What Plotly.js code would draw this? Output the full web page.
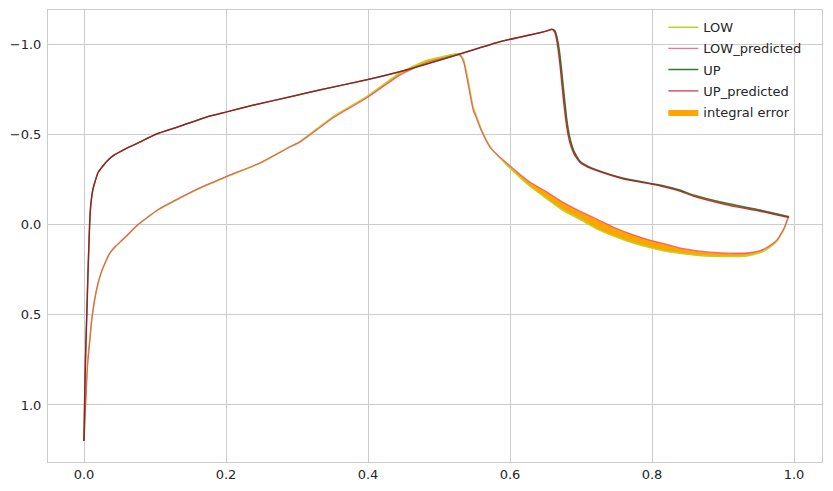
<!DOCTYPE html>
<html>
<head>
<meta charset="utf-8">
<script src="https://cdn.plot.ly/plotly-3.0.1.min.js"></script>
<style>html,body{margin:0;padding:0;background:#fff;}#chart{width:833px;height:491px;}</style>
</head>
<body>
<div id="chart"></div>
<script>
// ---- data ----
const LOW_X = [0.0, 0.002, 0.003, 0.005, 0.008, 0.011, 0.015, 0.019, 0.024, 0.030, 0.036, 0.045, 0.053, 0.060, 0.076, 0.088, 0.105, 0.126, 0.163, 0.201, 0.248, 0.290, 0.304, 0.332, 0.351, 0.398, 0.445, 0.483, 0.505, 0.520, 0.527, 0.531, 0.535, 0.541, 0.548, 0.553, 0.560, 0.572, 0.595, 0.628, 0.652, 0.675, 0.699, 0.722, 0.746, 0.769, 0.793, 0.816, 0.839, 0.862, 0.886, 0.910, 0.933, 0.952, 0.962, 0.976, 0.987, 0.992, 0.993];
const LOW_Y = [1.20, 1.00, 0.917, 0.76, 0.639, 0.52, 0.417, 0.34, 0.269, 0.21, 0.16, 0.118, 0.088, 0.062, 0.0, -0.037, -0.085, -0.13, -0.204, -0.268, -0.343, -0.435, -0.463, -0.546, -0.602, -0.713, -0.845, -0.915, -0.935, -0.948, -0.950, -0.94, -0.915, -0.806, -0.657, -0.602, -0.528, -0.435, -0.335, -0.215, -0.145, -0.08, -0.03, 0.022, 0.062, 0.095, 0.122, 0.144, 0.158, 0.168, 0.174, 0.176, 0.172, 0.155, 0.135, 0.090, 0.015, -0.040, -0.045];
const LOW_PRED_Y = [1.20, 1.02, 0.94, 0.78, 0.655, 0.525, 0.415, 0.335, 0.265, 0.207, 0.158, 0.116, 0.086, 0.060, -0.002, -0.039, -0.087, -0.132, -0.206, -0.27, -0.345, -0.433, -0.46, -0.54, -0.595, -0.705, -0.832, -0.902, -0.925, -0.942, -0.946, -0.935, -0.90, -0.78, -0.64, -0.59, -0.52, -0.43, -0.345, -0.238, -0.183, -0.125, -0.075, -0.033, 0.013, 0.048, 0.080, 0.103, 0.128, 0.143, 0.153, 0.157, 0.156, 0.143, 0.124, 0.083, 0.009, -0.046, -0.048];

const UP_X = [0.0, 0.001, 0.002, 0.003, 0.0045, 0.0056, 0.007, 0.008, 0.0095, 0.0127, 0.0155, 0.0197, 0.0272, 0.0338, 0.0413, 0.057, 0.076, 0.102, 0.135, 0.173, 0.201, 0.238, 0.295, 0.332, 0.398, 0.454, 0.525, 0.586, 0.642, 0.652, 0.659, 0.663, 0.666, 0.670, 0.675, 0.680, 0.684, 0.690, 0.699, 0.710, 0.722, 0.760, 0.792, 0.811, 0.839, 0.858, 0.905, 0.952, 0.990, 0.993];
const UP_Y = [1.20, 0.95, 0.76, 0.62, 0.42, 0.27, 0.10, -0.01, -0.11, -0.20, -0.24, -0.29, -0.33, -0.36, -0.385, -0.42, -0.455, -0.505, -0.548, -0.600, -0.628, -0.665, -0.716, -0.750, -0.806, -0.861, -0.944, -1.018, -1.068, -1.078, -1.087, -1.080, -1.046, -0.954, -0.770, -0.585, -0.49, -0.41, -0.352, -0.325, -0.306, -0.259, -0.235, -0.222, -0.194, -0.167, -0.120, -0.083, -0.048, -0.045];
const UP_PRED_Y = [1.20, 0.95, 0.76, 0.62, 0.42, 0.27, 0.10, -0.01, -0.11, -0.20, -0.24, -0.29, -0.33, -0.36, -0.385, -0.42, -0.455, -0.505, -0.548, -0.600, -0.628, -0.665, -0.716, -0.750, -0.806, -0.861, -0.944, -1.018, -1.068, -1.078, -1.086, -1.07, -1.02, -0.90, -0.70, -0.54, -0.46, -0.395, -0.345, -0.32, -0.302, -0.255, -0.232, -0.217, -0.188, -0.160, -0.112, -0.076, -0.043, -0.043];

const X_TICKS = [0.0, 0.2, 0.4, 0.6, 0.8, 1.0];
const Y_TICKS = [-1.0, -0.5, 0.0, 0.5, 1.0];

// ---- traces ----
function band(x, a, b) {
  return { x: x.concat(x.slice().reverse()), y: a.concat(b.slice().reverse()) };
}
const lowBand = band(LOW_X, LOW_Y, LOW_PRED_Y);
const upBand = band(UP_X, UP_Y, UP_PRED_Y);
const SMOOTH = { shape: 'spline', smoothing: 0.5 };

const traces = [
  { x: lowBand.x, y: lowBand.y, type: 'scatter', mode: 'lines', fill: 'toself',
    fillcolor: '#ffa500', line: Object.assign({ width: 0, color: '#ffa500' }, SMOOTH), name: 'integral error', legendrank: 5, legendgroup: 'e', hoverinfo: 'skip' },
  { x: upBand.x, y: upBand.y, type: 'scatter', mode: 'lines', fill: 'toself',
    fillcolor: '#ffa500', line: Object.assign({ width: 0, color: '#ffa500' }, SMOOTH), showlegend: false, legendgroup: 'e', hoverinfo: 'skip' },
  { x: LOW_X, y: LOW_Y, type: 'scatter', mode: 'lines', name: 'LOW', line: Object.assign({ color: '#bcd42a', width: 1.5 }, SMOOTH), legendrank: 1, legendgroup: 'a' },
  { x: LOW_X, y: LOW_PRED_Y, type: 'scatter', mode: 'lines', name: 'LOW_predicted', line: Object.assign({ color: 'rgba(238,60,110,0.72)', width: 1.3 }, SMOOTH), legendrank: 2, legendgroup: 'b' },
  { x: UP_X, y: UP_Y, type: 'scatter', mode: 'lines', name: 'UP', line: Object.assign({ color: '#2f7a34', width: 1.5 }, SMOOTH), legendrank: 3, legendgroup: 'c' },
  { x: UP_X, y: UP_PRED_Y, type: 'scatter', mode: 'lines', name: 'UP_predicted', line: Object.assign({ color: 'rgba(195,0,30,0.8)', width: 1.3 }, SMOOTH), legendrank: 4, legendgroup: 'd' }
];

const axisCommon = {
  showgrid: true, gridcolor: '#cccccc', gridwidth: 1,
  zeroline: false, showline: true, linecolor: '#cccccc', linewidth: 1, mirror: true,
  ticks: '', tickfont: { family: 'DejaVu Sans', size: 13, color: '#262626' }
};

const layout = {
  width: 833, height: 491,
  margin: { l: 48, r: 11, t: 10, b: 29 },
  paper_bgcolor: '#ffffff', plot_bgcolor: '#ffffff',
  showlegend: true,
  legend: {
    x: 0.795, y: 0.995, xanchor: 'left', yanchor: 'top',
    bgcolor: 'rgba(0,0,0,0)', borderwidth: 0,
    traceorder: 'grouped', tracegroupgap: 1.3,
    font: { family: 'DejaVu Sans', size: 13, color: '#262626' }
  },
  xaxis: Object.assign({}, axisCommon, {
    range: [-0.0507, 1.0394], tickvals: X_TICKS, tickformat: '.1f'
  }),
  yaxis: Object.assign({}, axisCommon, {
    range: [1.317, -1.194], tickvals: Y_TICKS, tickformat: '.1f', ticklabelstandoff: 3
  })
};

Plotly.newPlot('chart', traces, layout, { displayModeBar: false, staticPlot: true });
</script>
</body>
</html>
